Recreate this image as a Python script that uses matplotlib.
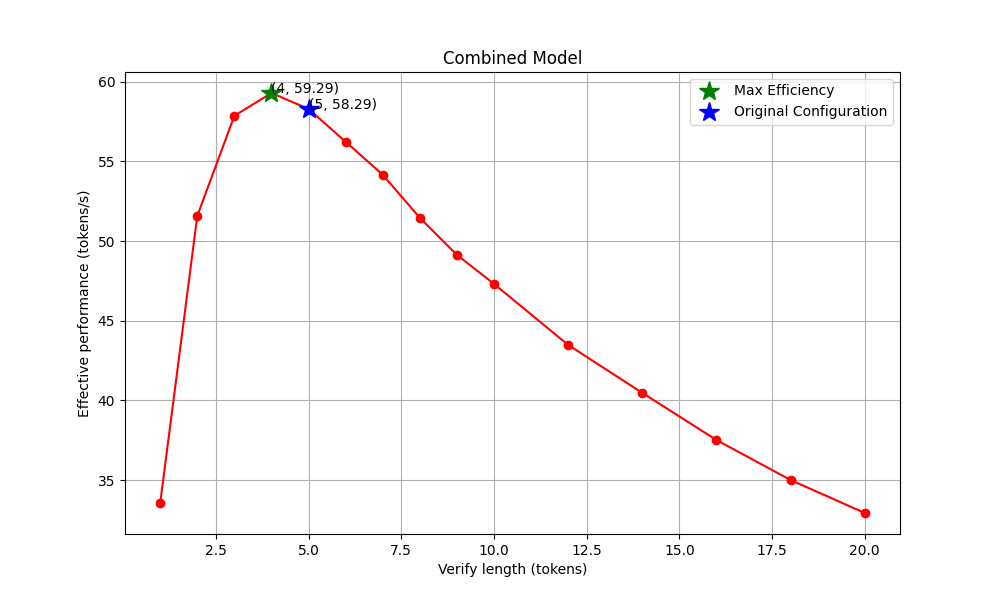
import matplotlib
matplotlib.use("Agg")
import matplotlib.pyplot as plt

verify_lengths = [1, 2, 3, 4, 5, 6, 7, 8, 9, 10, 12, 14, 16, 18, 20]
performance = [33.56, 51.58, 57.86, 59.29, 58.29, 56.23, 54.16, 51.46, 49.13, 47.31,
               43.48, 40.47, 37.51, 35.0, 32.93]
max_point = (4, 59.29)
orig_point = (5, 58.29)

plt.figure(figsize=(10, 6))
plt.plot(verify_lengths, performance, 'o-', color='red')
plt.plot(max_point[0], max_point[1], '*', color='green', markersize=15, label='Max Efficiency')
plt.plot(orig_point[0], orig_point[1], '*', color='blue', markersize=15, label='Original Configuration')
plt.annotate(f"({max_point[0]}, {max_point[1]})", max_point)
plt.annotate(f"({orig_point[0]}, {orig_point[1]})", orig_point)

plt.xlabel('Verify length (tokens)')
plt.ylabel('Effective performance (tokens/s)')
plt.title('Combined Model')
plt.legend()
plt.grid(True)
plt.savefig('out.png')
